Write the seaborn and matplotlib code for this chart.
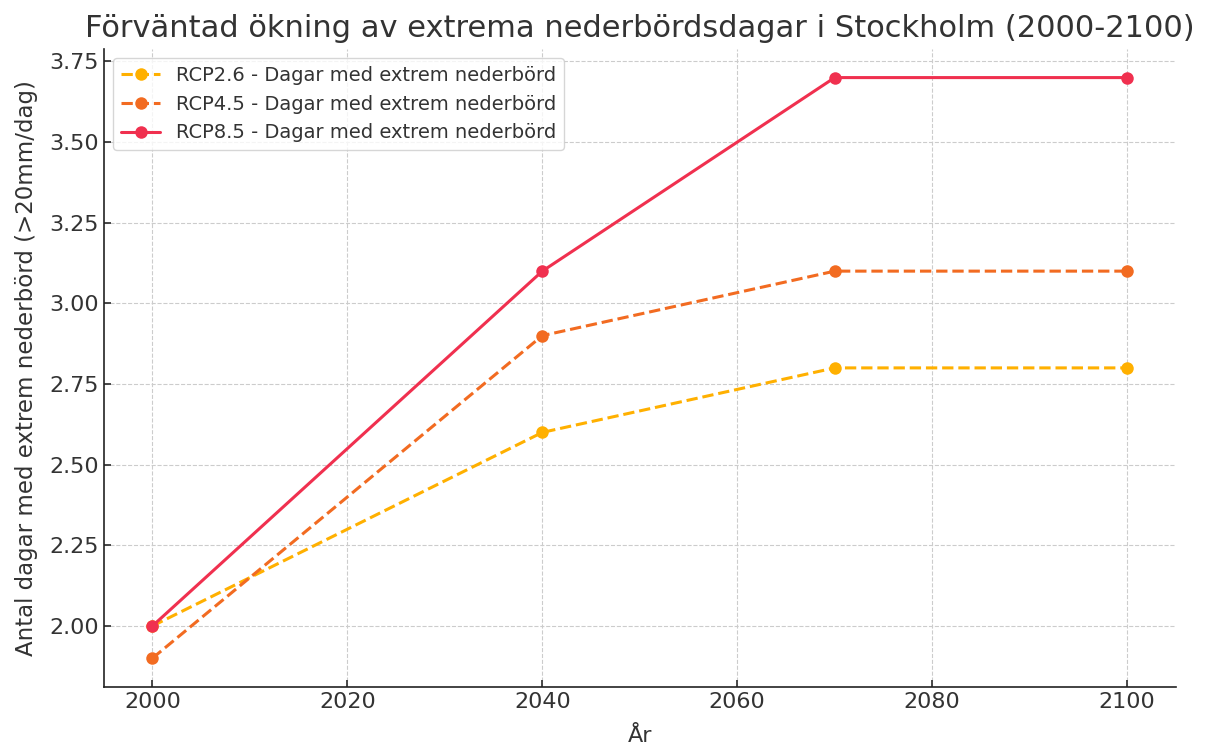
import matplotlib
matplotlib.use("Agg")
import matplotlib.pyplot as plt
import seaborn as sns
import pandas as pd

years = [2000, 2040, 2070, 2100]
rcp26 = [2.0, 2.6, 2.8, 2.8]
rcp45 = [1.9, 2.9, 3.1, 3.1]
rcp85 = [2.0, 3.1, 3.7, 3.7]

series_names = [
    "RCP2.6 - Dagar med extrem nederbörd",
    "RCP4.5 - Dagar med extrem nederbörd",
    "RCP8.5 - Dagar med extrem nederbörd",
]
series_values = [rcp26, rcp45, rcp85]
colors = ["#FFB000", "#F26B21", "#F0304F"]
styles = ["--", "--", "-"]


def main():
    sns.set_theme(style="ticks")
    plt.rcParams["font.family"] = ["DejaVu Sans"]

    fig, ax = plt.subplots(figsize=(12.06, 7.47), dpi=100)

    for name, vals, col, ls in zip(series_names, series_values, colors, styles):
        df = pd.DataFrame({"year": years, "value": vals})
        sns.lineplot(data=df, x="year", y="value", ax=ax, color=col,
                     linestyle=ls, linewidth=2.2, marker="o", markersize=9,
                     markeredgewidth=0, label=name)

    ax.set_title("Förväntad ökning av extrema nederbördsdagar i Stockholm (2000-2100)",
                 fontsize=22, color="#333333", pad=8)
    ax.set_xlabel("År", fontsize=16, color="#333333", labelpad=10)
    ax.set_ylabel("Antal dagar med extrem nederbörd (>20mm/dag)", fontsize=16.5,
                  color="#333333", labelpad=8)
    ax.set_xticks([2000, 2020, 2040, 2060, 2080, 2100])
    ax.set_yticks([2.0, 2.25, 2.5, 2.75, 3.0, 3.25, 3.5, 3.75])
    ax.yaxis.set_major_formatter(matplotlib.ticker.FormatStrFormatter("%.2f"))
    ax.tick_params(direction="in", labelsize=16, colors="#333333", length=5)
    ax.grid(True, linestyle="--", color="#cccccc", linewidth=0.8)
    sns.despine(ax=ax)
    for s in ["left", "bottom"]:
        ax.spines[s].set_color("#222222")
        ax.spines[s].set_linewidth(1.2)

    ax.legend(loc="upper left", fontsize=14, frameon=True, labelcolor="#333333")

    fig.subplots_adjust(left=0.086, right=0.975, top=0.935, bottom=0.08)
    fig.savefig("out.png", dpi=100)


if __name__ == "__main__":
    main()
